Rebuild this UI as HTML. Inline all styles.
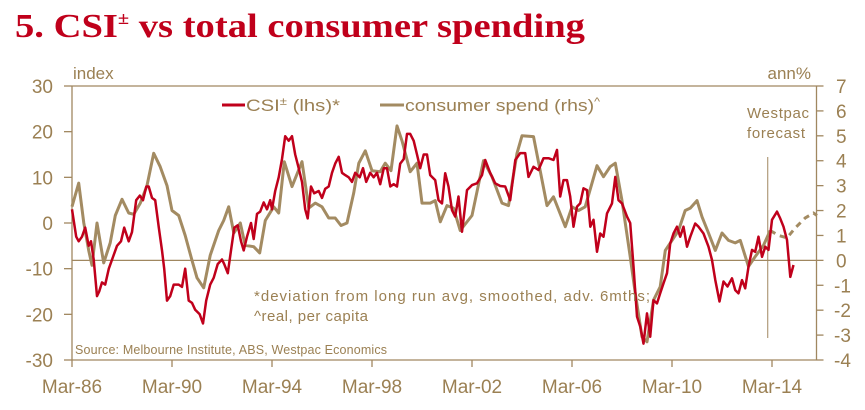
<!DOCTYPE html>
<html><head><meta charset="utf-8"><style>
html,body{margin:0;padding:0;background:#fff;}
svg{display:block;font-family:"Liberation Sans",sans-serif;}
</style></head><body>
<svg id="chart" width="865" height="410" viewBox="0 0 865 410" xmlns="http://www.w3.org/2000/svg">
<text x="15" y="37" font-family="Liberation Serif, serif" font-weight="bold" font-size="34" fill="#c0001b" textLength="570" lengthAdjust="spacingAndGlyphs">5. CSI<tspan font-size="18" dy="-13">±</tspan><tspan dy="13"> vs total consumer spending</tspan></text>
<g id="axes"></g>
<g id="series"></g>
<text x="73" y="79" font-size="17" fill="#9b8053">index</text>
<text x="811" y="79" font-size="17" fill="#9b8053" text-anchor="end">ann%</text>
<g>
<line x1="222" y1="105" x2="245" y2="105" stroke="#c0001b" stroke-width="3"/>
<text x="246" y="111" font-size="17" fill="#9b8053" textLength="94" lengthAdjust="spacingAndGlyphs">CSI<tspan font-size="11" dy="-6">±</tspan><tspan dy="6"> (lhs)*</tspan></text>
<line x1="380" y1="105" x2="404" y2="105" stroke="#a38b62" stroke-width="3"/>
<text x="405" y="111" font-size="17" fill="#9b8053" textLength="195" lengthAdjust="spacingAndGlyphs">consumer spend (rhs)<tspan font-size="11" dy="-6">^</tspan></text>
</g>
<text x="254" y="301" font-size="15" fill="#9b8053" textLength="396" lengthAdjust="spacing">*deviation from  long run avg, smoothed, adv. 6mths;</text>
<text x="254" y="321" font-size="15" fill="#9b8053" textLength="114" lengthAdjust="spacing">^real, per capita</text>
<text x="75" y="354" font-size="12.5" fill="#9b8053" textLength="312" lengthAdjust="spacing">Source: Melbourne Institute, ABS, Westpac Economics</text>
<text x="747" y="118" font-size="15" fill="#9b8053" textLength="62" lengthAdjust="spacing">Westpac</text>
<text x="747" y="138" font-size="15" fill="#9b8053" textLength="58" lengthAdjust="spacing">forecast</text>
</svg>
<script>
const csiDates=[1986.17,1986.34,1986.44,1986.57,1986.70,1986.84,1986.93,1987.04,1987.17,1987.26,1987.37,1987.50,1987.64,1987.84,1987.97,1988.13,1988.26,1988.44,1988.57,1988.74,1988.88,1989.01,1989.14,1989.24,1989.37,1989.50,1989.64,1989.77,1989.86,1989.97,1990.10,1990.24,1990.44,1990.57,1990.70,1990.84,1990.97,1991.10,1991.28,1991.41,1991.54,1991.70,1991.84,1992.00,1992.17,1992.26,1992.40,1992.53,1992.66,1992.80,1992.93,1993.04,1993.17,1993.33,1993.44,1993.57,1993.70,1993.84,1993.97,1994.10,1994.17,1994.30,1994.44,1994.57,1994.70,1994.84,1994.97,1995.10,1995.24,1995.37,1995.50,1995.60,1995.73,1995.86,1996.04,1996.17,1996.30,1996.44,1996.57,1996.70,1996.84,1996.97,1997.10,1997.24,1997.37,1997.50,1997.68,1997.81,1997.94,1998.10,1998.24,1998.37,1998.50,1998.64,1998.77,1998.90,1999.04,1999.17,1999.30,1999.44,1999.57,1999.70,1999.84,1999.97,2000.10,2000.24,2000.37,2000.50,2000.70,2000.83,2000.97,2001.10,2001.23,2001.37,2001.50,2001.63,2001.77,2001.97,2002.17,2002.37,2002.57,2002.70,2002.90,2003.10,2003.30,2003.50,2003.70,2003.90,2004.10,2004.30,2004.43,2004.63,2004.83,2005.03,2005.23,2005.43,2005.57,2005.70,2005.83,2005.97,2006.10,2006.23,2006.37,2006.50,2006.63,2006.77,2006.90,2007.03,2007.17,2007.30,2007.43,2007.57,2007.77,2007.90,2008.03,2008.17,2008.37,2008.50,2008.63,2008.77,2008.90,2009.03,2009.17,2009.30,2009.43,2009.57,2009.70,2009.83,2009.97,2010.10,2010.23,2010.37,2010.50,2010.63,2010.77,2010.90,2011.10,2011.23,2011.43,2011.63,2011.77,2011.90,2012.07,2012.23,2012.39,2012.57,2012.70,2012.83,2012.97,2013.10,2013.23,2013.37,2013.50,2013.63,2013.77,2013.90,2014.03,2014.17,2014.37,2014.50,2014.63,2014.77,2014.90,2015.03];
const csiValues=[3,-3,-4,-3,-1,-5,-4,-8,-16,-15,-13,-13.5,-10,-7,-5,-4,-1,-4,-2,5,6,5,8,8,5.5,5,-1,-6,-10,-17,-16,-13.5,-13.5,-14,-10,-17,-17.5,-19,-20,-22,-17,-13.5,-12,-9,-8,-9,-11,-6,-1,-0.5,-4,-6,-3,0,-3.5,2,2.5,4.5,3,5,3,7,10,14,19,18,19,15,12,9,3,1,8,6.5,7,5.5,7.5,8,11,13,14.5,11,10.5,10,9,11,10,12,9,11,10,11,8.5,12,12,8,8.5,8,13,14,19.5,19.5,18,15,12,15,15,10.5,9.4,5,4.3,10.9,8,2.8,1.4,5.8,-1.9,7.2,8.3,8.7,10.5,13.8,10.9,8.7,8.1,8,5,13.8,15.3,15.3,10.1,12.3,11.6,14.2,14.2,13.8,16,5.8,9.4,9.4,5.8,-0.8,3.6,4.3,7.6,7.2,-0.8,0.7,-6.3,-2.3,-3,2.1,4.3,10.1,5,4.3,1.4,0,-9.5,-20.5,-22.7,-26.4,-19.8,-24.9,-16.9,-17.6,-15.4,-13.2,-11,-4.5,-2.3,-0.8,-3,-0.8,-5.2,-3,-0.1,-0.8,-2.3,-5.2,-8.1,-12.5,-17.2,-12.8,-13.9,-12.1,-14.7,-15.4,-12.5,-14.3,-9.6,-5.9,-6.3,-3,-7.4,-5.2,-5.9,0.7,2.5,1,-0.8,-3.7,-11.8,-9.2];
const spendDates=[1986.17,1986.44,1986.64,1986.84,1986.97,1987.17,1987.44,1987.70,1987.90,1988.17,1988.44,1988.64,1988.90,1989.17,1989.44,1989.70,1989.97,1990.17,1990.44,1990.70,1990.97,1991.17,1991.44,1991.70,1992.04,1992.24,1992.44,1992.64,1992.90,1993.10,1993.44,1993.68,1993.90,1994.24,1994.44,1994.66,1994.97,1995.37,1995.64,1995.90,1996.17,1996.44,1996.70,1996.93,1997.17,1997.44,1997.64,1997.90,1998.17,1998.50,1998.70,1998.93,1999.17,1999.37,1999.70,1999.97,2000.17,2000.50,2000.70,2000.90,2001.17,2001.43,2001.70,2002.17,2002.63,2002.97,2003.37,2003.63,2003.97,2004.17,2004.63,2005.17,2005.43,2005.90,2006.17,2006.43,2006.70,2007.17,2007.43,2007.70,2007.90,2008.17,2008.50,2008.70,2008.97,2009.17,2009.43,2009.70,2009.90,2010.17,2010.43,2010.70,2010.90,2011.17,2011.37,2011.63,2011.90,2012.17,2012.43,2012.70,2012.90,2013.23,2013.50,2013.83,2014.10];
const spendValues=[2.16,3.1,1.5,0.4,-0.2,1.5,-0.1,0.7,1.8,2.45,1.9,1.85,2.3,3.0,4.3,3.76,3.0,2.0,1.8,1.0,0,-0.7,-1.1,0.2,1.2,1.6,2.15,1.1,1.5,0.6,0.55,0.3,1.6,2.15,1.9,3.96,2.96,3.96,2.1,2.3,2.15,1.7,1.7,1.4,1.5,2.7,3.9,4.4,3.6,3.56,3.9,3.6,5.4,4.8,3.56,3.9,2.3,2.3,2.4,1.55,2.2,2.1,1.2,1.8,4.0,3.36,2.3,2.2,4.3,5.0,4.97,2.2,2.55,1.35,2.15,2.0,2.15,3.8,3.36,3.76,3.9,2.4,0.15,-1.3,-3.07,-3.27,-1.6,-1.06,0.4,0.8,1.2,2.0,2.1,2.4,1.75,1.1,0.4,1.1,0.8,0.7,0.8,-0.25,0.15,0.6,1.2];
const forecastDates=[2014.10,2014.43,2014.77,2015.10,2015.50,2015.83,2015.97];
const forecastValues=[1.2,1.0,0.9,1.3,1.7,1.9,1.8];
const leftTicks=[30,20,10,0,-10,-20,-30];
const rightTicks=[7,6,5,4,3,2,1,0,-1,-2,-3,-4];
const xTickYears=[1986.17,1990.17,1994.17,1998.17,2002.17,2006.17,2010.17,2014.17];
const xTickLabels=["Mar-86","Mar-90","Mar-94","Mar-98","Mar-02","Mar-06","Mar-10","Mar-14"];
const forecastStart=2014.0;

const PL=72,PR=816.5,PT=86,PB=360,GOLD="#9b8053",AX="#a08760";
const x=t=>PL+(t-1986.17)*25;
const yL=v=>PT+(30-v)*(PB-PT)/60;
const yR=v=>PT+(7-v)*(PB-PT)/11;
const NS="http://www.w3.org/2000/svg";
function mk(tag,attrs,parent,text){const e=document.createElementNS(NS,tag);for(const k in attrs)e.setAttribute(k,attrs[k]);if(text!==undefined)e.textContent=text;parent.appendChild(e);return e;}
const axes=document.getElementById('axes'),ser=document.getElementById('series');

let e=mk('line',{x1:PL,y1:PT,x2:PR,y2:PT,stroke:AX,'stroke-width':1.3},axes);

e=mk('line',{x1:PL,y1:PT,x2:PL,y2:PB,stroke:AX,'stroke-width':1.3},axes);

e=mk('line',{x1:PR,y1:PT,x2:PR,y2:PB,stroke:AX,'stroke-width':1.3},axes);

e=mk('line',{x1:PL,y1:PB,x2:PR,y2:PB,stroke:AX,'stroke-width':1.3},axes);

e=mk('line',{x1:PL,y1:yR(0),x2:PR,y2:yR(0),stroke:AX,'stroke-width':1.3},axes);

e=mk('line',{x1:x(forecastStart),y1:157,x2:x(forecastStart),y2:338,stroke:AX,'stroke-width':1},axes);


leftTicks.forEach(v=>{
  const t=mk('line',{x1:PL-8,y1:yL(v),x2:PL,y2:yL(v),stroke:AX,'stroke-width':1.3},axes);
  
  const l=mk('text',{x:53,y:yL(v)+7,'font-size':19,fill:GOLD,'text-anchor':'end'},axes,String(v));
  
});
rightTicks.forEach(v=>{
  const t=mk('line',{x1:PR,y1:yR(v),x2:PR+7,y2:yR(v),stroke:AX,'stroke-width':1.3},axes);
  
  const l=mk('text',{x:v<0?834:836,y:yR(v)+7,'font-size':19,fill:GOLD},axes,String(v));
  
});
xTickYears.forEach((t,i)=>{
  const k=mk('line',{x1:x(t),y1:PB,x2:x(t),y2:PB+7,stroke:AX,'stroke-width':1.3},axes);
  
  const l=mk('text',{x:x(t),y:393,'font-size':19,fill:GOLD,'text-anchor':'middle'},axes,xTickLabels[i]);
  
});
function pts(d,v,f){return d.map((t,i)=>x(t).toFixed(1)+','+f(v[i]).toFixed(1)).join(' ');}
e=mk('polyline',{points:pts(spendDates,spendValues,yR),fill:'none',stroke:'#a38b62','stroke-width':3,'stroke-linejoin':'round'},ser);

e=mk('polyline',{points:pts(forecastDates,forecastValues,yR),fill:'none',stroke:'#a38b62','stroke-width':3,'stroke-dasharray':'6,5'},ser);

e=mk('polyline',{points:pts(csiDates,csiValues,yL),fill:'none',stroke:'#c0001b','stroke-width':2.5,'stroke-linejoin':'round'},ser);

</script>
</body></html>
